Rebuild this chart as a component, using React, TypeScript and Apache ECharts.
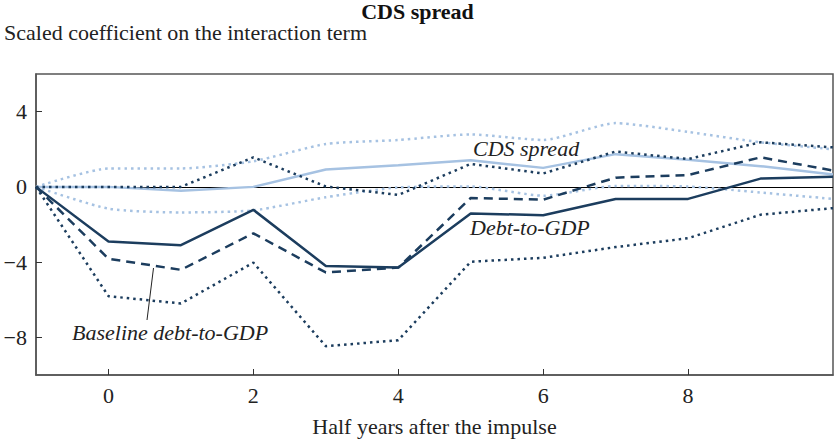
import React, { useEffect, useRef } from "react";
import * as echarts from "echarts";

const periods = [-1, 0, 1, 2, 3, 4, 5, 6, 7, 8, 9, 10];
const debtToGdp = [0, -2.9, -3.1, -1.22, -4.2, -4.29, -1.41, -1.51, -0.64, -0.64, 0.44, 0.54];
const baselineDebt = [0, -3.82, -4.41, -2.47, -4.55, -4.29, -0.59, -0.68, 0.49, 0.63, 1.57, 0.87];
const debtUpper = [0, 0, 0, 1.57, 0.02, -0.43, 1.22, 0.71, 1.88, 1.48, 2.37, 2.1];
const debtLower = [0, -5.81, -6.2, -4.03, -8.47, -8.15, -3.98, -3.77, -3.2, -2.73, -1.48, -1.13];
const cdsSpread = [0, 0, -0.2, 0, 0.92, 1.15, 1.41, 1.01, 1.74, 1.44, 1.1, 0.66];
const cdsUpper = [0, 0.98, 0.98, 1.36, 2.28, 2.49, 2.79, 2.49, 3.39, 2.92, 2.37, 2.0];
const cdsLower = [0, -1.16, -1.36, -1.25, -0.55, -0.03, 0.02, -0.47, 0.05, 0.02, -0.3, -0.64];
const xTicks = [0, 2, 4, 6, 8];
const yTicks = [-8, -4, 0, 4];

const DARK = "#1c3d5e";
const LIGHT = "#a6c2e2";
const FONT = "'Liberation Serif', 'Times New Roman', serif";

const pairs = (ys: number[]) => periods.map((x, i) => [x, ys[i]]);

export default function App() {
  const ref = useRef<HTMLDivElement>(null);
  useEffect(() => {
    if (!ref.current) return;
    document.body.style.margin = "0";
    const chart = echarts.init(ref.current, null, { renderer: "svg" });
    const line = (name: string, ys: number[], color: string, type: any, z: number, smooth = 0) => ({
      name,
      type: "line",
      data: pairs(ys),
      showSymbol: false,
      symbol: "none",
      smooth,
      z,
      lineStyle: { color, width: 2.5, type, cap: "butt" },
    });
    chart.setOption({
      animation: false,
      title: [
        {
          text: "CDS spread",
          left: "center",
          top: 0,
          padding: 0,
          textStyle: { fontFamily: FONT, fontSize: 22, fontWeight: "bold", color: "#111" },
        },
        {
          text: "Scaled coefficient on the interaction term",
          left: 4,
          top: 21,
          padding: 0,
          textStyle: { fontFamily: FONT, fontSize: 22, fontWeight: "normal", color: "#222" },
        },
      ],
      grid: { left: 36, right: 2, top: 74, bottom: 63, show: true, borderColor: "#555", borderWidth: 1.5, backgroundColor: "#fff" },
      xAxis: {
        type: "value",
        min: -1,
        max: 10,
        name: "Half years after the impulse",
        nameLocation: "middle",
        nameGap: 40,
        nameTextStyle: { fontFamily: FONT, fontSize: 22, color: "#222" },
        splitLine: { show: false },
        axisLine: { show: true, onZero: false, lineStyle: { color: "#555", width: 1.5 } },
        axisTick: { show: true, inside: true, length: 6, customValues: xTicks, lineStyle: { color: "#333" } },
        axisLabel: { customValues: xTicks, fontFamily: FONT, fontSize: 22, color: "#222", margin: 9 },
      },
      yAxis: {
        type: "value",
        min: -10,
        max: 6,
        splitLine: { show: false },
        axisLine: { show: true, onZero: false, lineStyle: { color: "#555", width: 1.5 } },
        axisTick: { show: true, inside: true, length: 6, customValues: yTicks, lineStyle: { color: "#333" } },
        axisLabel: {
          customValues: yTicks,
          fontFamily: FONT,
          fontSize: 22,
          color: "#222",
          margin: 9,
          formatter: (v: number) => (v < 0 ? "\u2212" + Math.abs(v) : String(v)),
        },
      },
      series: [
        line("CDS spread upper", cdsUpper, LIGHT, [2.5, 4], 2, 0.2),
        line("CDS spread lower", cdsLower, LIGHT, [2.5, 4], 2, 0.2),
        {
          ...line("CDS spread", cdsSpread, LIGHT, "solid", 3),
          markLine: {
            silent: true,
            symbol: "none",
            label: { show: false },
            lineStyle: { color: "#000", width: 1, type: "solid" },
            data: [{ yAxis: 0 }],
            z: 1,
          },
        },
        line("Debt upper", debtUpper, DARK, [2.5, 4], 4),
        line("Debt lower", debtLower, DARK, [2.5, 4], 4),
        line("Baseline debt-to-GDP", baselineDebt, DARK, [9, 6], 5),
        line("Debt-to-GDP", debtToGdp, DARK, "solid", 6),
      ],
      graphic: [
        {
          type: "text",
          left: 473,
          top: 137,
          style: { text: "CDS spread", font: `italic 22px ${FONT}`, fill: "#222" },
          z: 20,
        },
        {
          type: "text",
          left: 470,
          top: 216,
          style: { text: "Debt-to-GDP", font: `italic 22px ${FONT}`, fill: "#222" },
          z: 20,
        },
        {
          type: "text",
          left: 72,
          top: 321,
          style: { text: "Baseline debt-to-GDP", font: `italic 22px ${FONT}`, fill: "#222" },
          z: 20,
        },
        {
          type: "line",
          shape: { x1: 147, y1: 320, x2: 153.5, y2: 268 },
          style: { stroke: "#222", lineWidth: 1 },
          z: 20,
        },
      ],
    });
    return () => chart.dispose();
  }, []);
  return <div ref={ref} style={{ width: 835, height: 442 }} />;
}
